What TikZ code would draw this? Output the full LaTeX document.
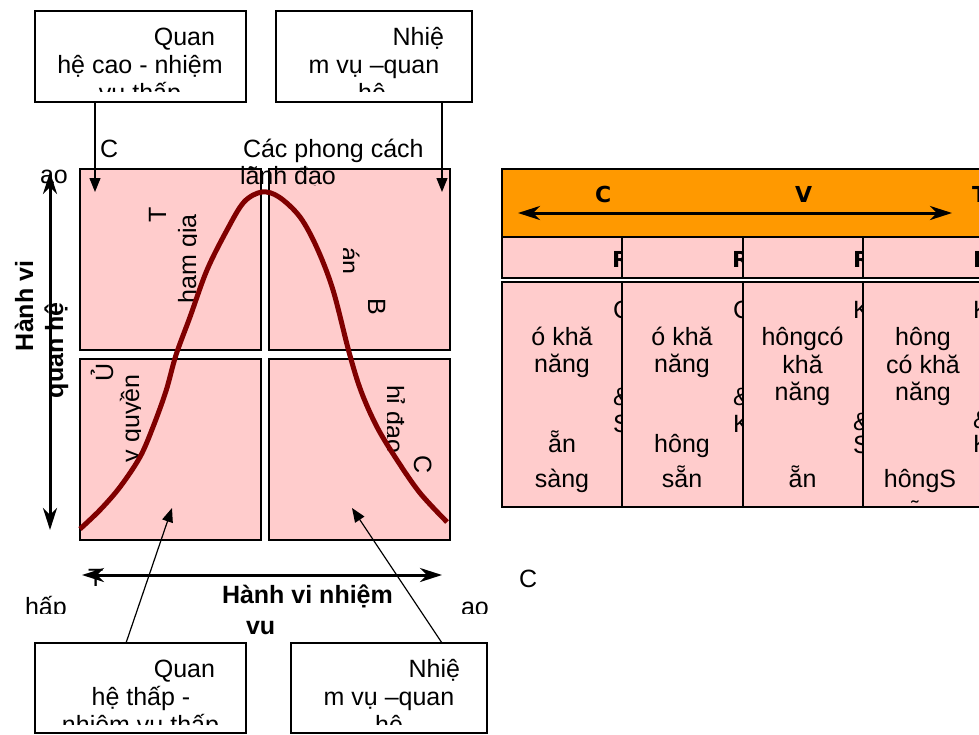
\documentclass[tikz,border=0pt]{standalone}
\usepackage{fontspec}
\setmainfont{Liberation Sans}
\newfontfamily\hdrfont{DejaVu Sans}
\usetikzlibrary{arrows.meta}
\definecolor{pinkc}{HTML}{FFCCCC}
\definecolor{orangec}{HTML}{FF9900}
\definecolor{curvec}{HTML}{800000}
\tikzset{
 tx/.style={inner sep=0pt,outer sep=0pt,font=\fontsize{25}{28}\selectfont},
 txb/.style={inner sep=0pt,outer sep=0pt,font=\fontsize{25}{28}\selectfont\bfseries},
 hd/.style={inner sep=0pt,outer sep=0pt,font=\hdrfont\bfseries\fontsize{22}{26}\selectfont},
 lbox/.style={draw=black,line width=1.2pt,fill=white,inner sep=0pt,outer sep=0pt,anchor=north west},
 quad/.style={draw=black,line width=1.5pt,fill=pinkc,inner sep=0pt,outer sep=0pt,anchor=north west,minimum width=181pt,minimum height=181pt},
 cellbox/.style={draw=black,line width=1.5pt,fill=pinkc,inner sep=0pt,outer sep=0pt,anchor=north west},
 ptr/.style={line width=1.2pt,-{Triangle[length=14pt,width=11pt]}},
 axis/.style={line width=3pt,{Stealth[length=22pt,width=14pt,inset=7pt]}-{Stealth[length=22pt,width=14pt,inset=7pt]}},
 bell/.style={draw=curvec,line width=5pt},
}
\begin{document}
\begin{tikzpicture}[x=1pt,y=-1pt]
\useasboundingbox (0,0) rectangle (979,734);
\fill[white] (0,0) rectangle (979,734);
\clip (0,0) rectangle (979,734);

% ---------- table ----------
\node[cellbox,fill=orangec,minimum width=482pt,minimum height=68pt] (hdr) at (502,169) {};
\node[cellbox,minimum width=120pt,minimum height=41pt] (r2a) at (502,237) {};
\node[cellbox,minimum width=121pt,minimum height=41pt] (r2b) at (622,237) {};
\node[cellbox,minimum width=120pt,minimum height=41pt] (r2c) at (743,237) {};
\node[cellbox,minimum width=121pt,minimum height=41pt] (r2d) at (863,237) {};
\node[cellbox,minimum width=120pt,minimum height=225pt] (r3a) at (502,282) {};
\node[cellbox,minimum width=121pt,minimum height=225pt] (r3b) at (622,282) {};
\node[cellbox,minimum width=120pt,minimum height=225pt] (r3c) at (743,282) {};
\node[cellbox,minimum width=121pt,minimum height=225pt] (r3d) at (863,282) {};

\node[hd,anchor=base west] (hC) at (595,202) {C};
\node[hd,anchor=base west] (hV) at (795,202) {V};
\node[hd,anchor=base west] (hT) at (972,202) {T};
\coordinate (ha1) at (518,213);
\coordinate (ha2) at (952,213);
\draw[axis] (ha1) -- (ha2);

\begin{scope}\clip (502,237) rectangle (621,278);
\node[hd,anchor=base west] (ra) at (612,267) {R};\end{scope}
\begin{scope}\clip (622,237) rectangle (742,278);
\node[hd,anchor=base west] (rb) at (732,267) {R};\end{scope}
\begin{scope}\clip (743,237) rectangle (862,278);
\node[hd,anchor=base west] (rc) at (853,267) {R};\end{scope}
\begin{scope}\clip (863,237) rectangle (982,278);
\node[hd,anchor=base west] (rd) at (973,267) {R};\end{scope}

% column 1
\begin{scope}\clip (502,282) rectangle (621,507);
\node[tx,anchor=base west] (a0) at (613,318) {C};
\node[tx,anchor=base west] (a3) at (613,405) {\&};
\node[tx,anchor=base west] (a4) at (613,432) {S};
\end{scope}
\node[tx,anchor=base] (a1) at (562,345) {ó khă};
\node[tx,anchor=base] (a2) at (562,372) {năng};
\node[tx,anchor=base] (a5) at (562,452) {ẵn};
\node[tx,anchor=base] (a6) at (562,487) {sàng};
% column 2
\begin{scope}\clip (622,282) rectangle (742,507);
\node[tx,anchor=base west] (b0) at (733,318) {C};
\node[tx,anchor=base west] (b3) at (733,405) {\&};
\node[tx,anchor=base west] (b4) at (733,432) {K};
\end{scope}
\node[tx,anchor=base] (b1) at (682,345) {ó khă};
\node[tx,anchor=base] (b2) at (682,372) {năng};
\node[tx,anchor=base] (b5) at (682,452) {hông};
\node[tx,anchor=base] (b6) at (682,487) {sẵn};
% column 3
\begin{scope}\clip (743,282) rectangle (862,507);
\node[tx,anchor=base west] (c0) at (853,318) {K};
\node[tx,anchor=base west] (c4) at (853,430) {\&};
\node[tx,anchor=base west] (c5) at (853,453) {S};
\end{scope}
\node[tx,anchor=base] (c1) at (802.5,345) {hôngcó};
\node[tx,anchor=base] (c2) at (802.5,373) {khă};
\node[tx,anchor=base] (c3) at (802.5,400) {năng};
\node[tx,anchor=base] (c6) at (802.5,487) {ẵn};
% column 4
\begin{scope}\clip (863,282) rectangle (982,502);
\node[tx,anchor=base west] (d0) at (973,318) {K};
\node[tx,anchor=base west] (d4) at (973,428) {\&};
\node[tx,anchor=base west] (d5) at (973,452) {K};
\node[tx,anchor=base] (d1) at (923,345) {hông};
\node[tx,anchor=base] (d2) at (923,373) {có khă};
\node[tx,anchor=base] (d3) at (923,400) {năng};
\node[tx,anchor=base] (d6) at (920,487) {hôngS};
\node[tx,anchor=base] (d7) at (922,522) {ẵn};
\end{scope}

% ---------- top boxes ----------
\node[lbox,minimum width=211pt,minimum height=91pt] (btl) at (35,11) {};
\node[tx,anchor=base east] (btl1) at (215,45) {Quan};
\node[tx,anchor=base] (btl2) at (140,73) {hệ cao - nhiệm};
\begin{scope}\clip (35,11) rectangle (246,91.5);
\node[tx,anchor=base] (btl3) at (140,101) {vụ thấp};\end{scope}

\node[lbox,minimum width=196pt,minimum height=91pt] (btr) at (276,11) {};
\node[tx,anchor=base east] (btr1) at (444,45) {Nhiệ};
\node[tx,anchor=base] (btr2) at (374,73) {m vụ –quan};
\begin{scope}\clip (276,11) rectangle (472,91.5);
\node[tx,anchor=base] (btr3) at (372,101) {hệ};\end{scope}

% ---------- bottom boxes ----------
\node[lbox,minimum width=211pt,minimum height=90pt] (bbl) at (35,643) {};
\node[tx,anchor=base east] (bbl1) at (215,677) {Quan};
\node[tx,anchor=base] (bbl2) at (141,705) {hệ thấp -};
\begin{scope}\clip (35,643) rectangle (246,724);
\node[tx,anchor=base] (bbl3) at (140.5,733) {nhiệm vụ thấp};\end{scope}

\node[lbox,minimum width=196pt,minimum height=90pt] (bbr) at (291,643) {};
\node[tx,anchor=base east] (bbr1) at (460,677) {Nhiệ};
\node[tx,anchor=base] (bbr2) at (389,705) {m vụ –quan};
\begin{scope}\clip (291,643) rectangle (487,724);
\node[tx,anchor=base] (bbr3) at (389,733) {hệ};\end{scope}

% ---------- quadrants ----------
\node[quad] (qtl) at (80,169) {};
\node[quad] (qtr) at (269,169) {};
\node[quad] (qbl) at (80,359) {};
\node[quad] (qbr) at (269,359) {};

\node[tx,anchor=base west,rotate=90] (qT) at (166,222) {T};
\begin{scope}\clip (80,169) rectangle (196.5,350);
\node[tx,anchor=base west,rotate=90] (qTg) at (196,303) {ham gia};\end{scope}
\node[tx,anchor=base west,rotate=-90] (qB) at (368,298) {B};
\begin{scope}\clip (343,169) rectangle (450,350);
\node[tx,anchor=base west,rotate=-90] (qBa) at (341,247) {án};\end{scope}
\node[tx,anchor=base west,rotate=90] (qU) at (113,381) {Ủ};
\begin{scope}\clip (80,359) rectangle (140,540);
\node[tx,anchor=base west,rotate=90] (qUy) at (139,462) {y quyền};\end{scope}
\node[tx,anchor=base west,rotate=-90] (qC) at (414,455) {C};
\begin{scope}\clip (387.5,359) rectangle (450,540);
\node[tx,anchor=base west,rotate=-90] (qCh) at (386,385) {hỉ đạo};\end{scope}

% labels around
\node[tx,anchor=base west] (lc) at (100,157) {C};
\node[tx,anchor=base west] (lt1) at (243,157) {Các phong cách};
\begin{scope}\clip (200,160) rectangle (400,185.5);
\node[tx,anchor=base west] (lt2) at (240,184) {lãnh đạo};\end{scope}
\node[tx,anchor=base west] (lao) at (40,183) {ao};
\node[txb,anchor=base west,rotate=90] (lv1) at (33,351) {Hành vi};
\node[txb,anchor=base west,rotate=90] (lv2) at (63,398) {quan hệ};
\node[tx,anchor=base west] (lT) at (88,586) {T};
\begin{scope}\clip (0,590) rectangle (520,613);
\node[tx,anchor=base west] (lhap) at (25,615) {hấp};
\node[tx,anchor=base west] (lao2) at (461,615) {ao};\end{scope}
\node[txb,anchor=base west] (lh1) at (222,603) {Hành vi nhiệm};
\begin{scope}\clip (200,610) rectangle (320,634.5);
\node[txb,anchor=base west] (lh2) at (246,634) {vụ};\end{scope}
\node[tx,anchor=base west] (lC2) at (519,587) {C};

% ---------- bell curve ----------
\draw[bell] plot[smooth,tension=0.55] coordinates {(80,529) (100,510) (120,487) (140,457) (153,427) (166,391) (176,355) (190,317) (207,270) (227,230) (244,202) (262,192) (279,197) (300,217) (317,248) (333,290) (349,352) (361,391) (377,427) (397,460) (420,493) (447,522)};

% ---------- axes ----------
\coordinate (vt) at (50,172);
\coordinate (vb) at (50,530);
\draw[axis] (vt) -- (vb);
\coordinate (hl) at (82,575);
\coordinate (hr) at (442,575);
\draw[axis] (hl) -- (hr);

% ---------- pointers ----------
\coordinate (p1) at (95,192);
\coordinate (p2) at (442,192);
\draw[ptr] (btl.south -| p1) -- (p1);
\draw[ptr] (btr.south -| p2) -- (p2);
\coordinate (s3) at (126,643);
\coordinate (p3) at (172,508);
\coordinate (s4) at (442,643);
\coordinate (p4) at (352,508);
\draw[ptr] (bbl.north -| s3) -- (p3);
\draw[ptr] (bbr.north -| s4) -- (p4);
\end{tikzpicture}
\end{document}
